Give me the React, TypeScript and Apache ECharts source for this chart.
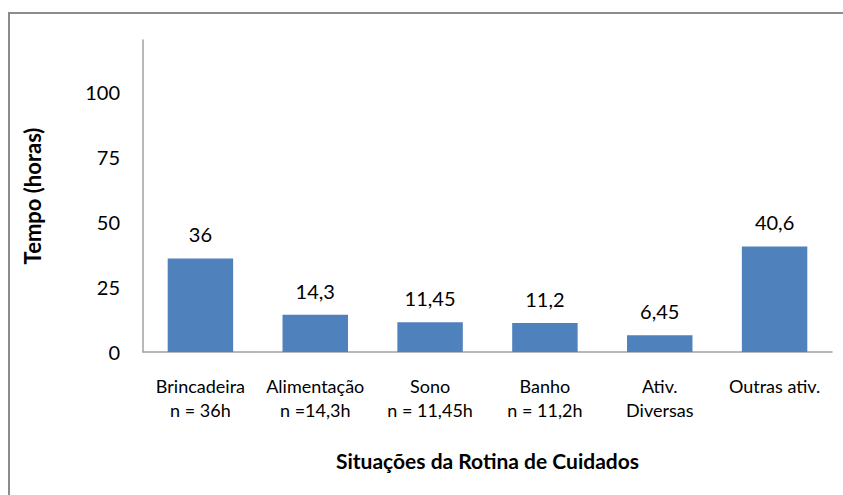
import React, { useEffect, useRef } from "react";
import * as echarts from "echarts";

const categories = ["Brincadeira", "Alimentação", "Sono", "Banho", "Ativ.", "Outras ativ."];
const subLabels = ["n = 36h", "n =14,3h", "n = 11,45h", "n = 11,2h", "Diversas", ""];
const values = [36, 14.3, 11.45, 11.2, 6.45, 40.6];
const yTicks = [0, 25, 50, 75, 100];

const FONT = "Lato, 'Open Sans', sans-serif";

export default function App() {
  const ref = useRef<HTMLDivElement>(null);
  useEffect(() => {
    if (!ref.current) return;
    const chart = echarts.init(ref.current, undefined, { renderer: "svg" });
    const labels = categories.map((c, i) => (subLabels[i] ? c + "\n" + subLabels[i] : c));
    chart.setOption({
      animation: false,
      backgroundColor: "#fff",
      textStyle: { fontFamily: FONT },
      graphic: [
        {
          type: "rect",
          shape: { x: 9, y: 13, width: 900, height: 600 },
          style: { fill: "none", stroke: "#8c8c8c", lineWidth: 2 },
          silent: true,
        },
      ],
      grid: { left: 143, right: 11, top: 40, bottom: 143 },
      xAxis: {
        type: "category",
        data: labels,
        name: "Situações da Rotina de Cuidados",
        nameLocation: "middle",
        nameGap: 98,
        nameTextStyle: { fontSize: 21, fontWeight: "bold", color: "#000", fontFamily: FONT },
        axisLine: { lineStyle: { color: "#a0a0a0", width: 1.5 } },
        axisTick: { show: false },
        axisLabel: {
          interval: 0,
          margin: 22,
          fontSize: 18,
          lineHeight: 24,
          color: "#000",
          fontFamily: FONT,
        },
      },
      yAxis: {
        type: "value",
        min: 0,
        max: 120,
        interval: 25,
        name: "Tempo (horas)",
        nameLocation: "middle",
        nameGap: 100,
        nameRotate: 90,
        nameTextStyle: { fontSize: 22, fontWeight: "bold", color: "#000", fontFamily: FONT },
        axisLine: { show: true, lineStyle: { color: "#a0a0a0", width: 1.5 } },
        axisTick: { show: false },
        splitLine: { show: false },
        axisLabel: {
          margin: 23,
          fontSize: 20,
          color: "#000",
          fontFamily: FONT,
          showMaxLabel: false,
          formatter: (v: number) => (yTicks.indexOf(v) >= 0 ? String(v) : ""),
        },
      },
      series: [
        {
          type: "bar",
          data: values,
          barWidth: "57%",
          itemStyle: { color: "#4F81BD" },
          label: {
            show: true,
            position: "top",
            distance: 14,
            fontSize: 20,
            color: "#000",
            fontFamily: FONT,
            formatter: (p: any) => String(p.value).replace(".", ","),
          },
        },
      ],
    });
    return () => chart.dispose();
  }, []);
  return (
    <div
      ref={ref}
      style={{ position: "fixed", left: 0, top: 0, width: 843, height: 495 }}
    />
  );
}
